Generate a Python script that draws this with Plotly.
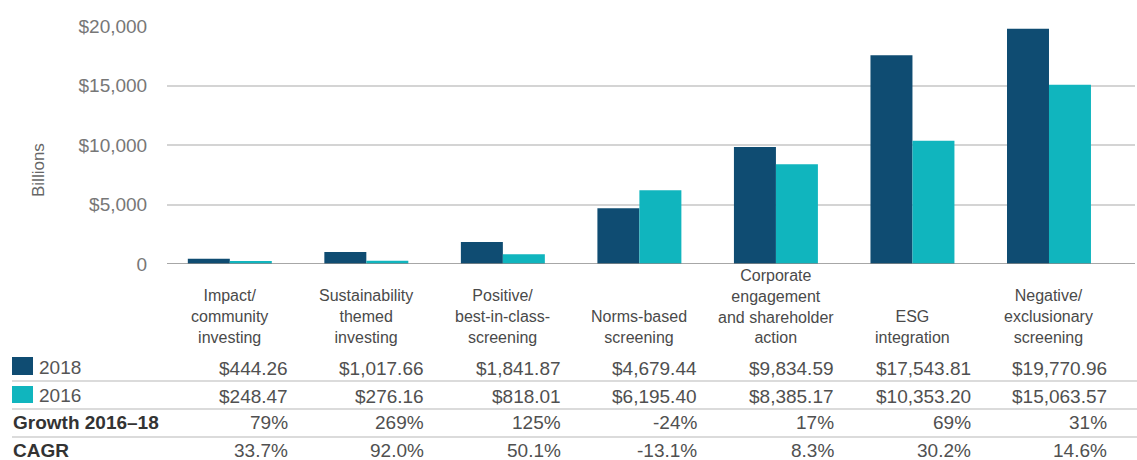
import plotly.graph_objects as go

# Sustainable investing assets by strategy, $ billions
categories = [
    "Impact/<br>community<br>investing",
    "Sustainability<br>themed<br>investing",
    "Positive/<br>best-in-class-<br>screening",
    "Norms-based<br>screening",
    "Corporate<br>engagement<br>and shareholder<br>action",
    "ESG<br>integration",
    "Negative/<br>exclusionary<br>screening",
]
values_2018 = [444.26, 1017.66, 1841.87, 4679.44, 9834.59, 17543.81, 19770.96]
values_2016 = [248.47, 276.16, 818.01, 6195.40, 8385.17, 10353.20, 15063.57]
growth_labels = ["79%", "269%", "125%", "-24%", "17%", "69%", "31%"]
cagr_labels = ["33.7%", "92.0%", "50.1%", "-13.1%", "8.3%", "30.2%", "14.6%"]
tick_values = [0, 5000, 10000, 15000, 20000]
tick_labels = ["0", "$5,000", "$10,000", "$15,000", "$20,000"]

NAVY = "#0f4c72"
TEAL = "#10b5be"
FONT = "Liberation Sans, Arial, sans-serif"

W, H = 1137, 460
PLOT_L, PLOT_R = 167, 1135
PLOT_T, PLOT_B = 26, 264


def py(pixel_y):
    """Pixel row -> paper y coordinate."""
    return (PLOT_B - pixel_y) / (PLOT_B - PLOT_T)


def px(pixel_x):
    """Pixel column -> paper x coordinate."""
    return (pixel_x - PLOT_L) / (PLOT_R - PLOT_L)


idx = list(range(len(categories)))

fig = go.Figure()
fig.add_trace(go.Bar(x=idx, y=values_2018, name="2018", marker_color=NAVY,
                     marker_line_width=0))
fig.add_trace(go.Bar(x=idx, y=values_2016, name="2016", marker_color=TEAL,
                     marker_line_width=0))

annotations = []

# category labels under the bars
for i, cat in enumerate(categories):
    annotations.append(dict(
        x=i, y=py(348), xref="x", yref="paper", text=cat, showarrow=False,
        xanchor="center", yanchor="bottom", align="center",
        font=dict(family=FONT, size=16, color="#4a4a4a")))

# data table rows
def money(v):
    return "${:,.2f}".format(v)

rows = [
    ([money(v) for v in values_2018], 368),
    ([money(v) for v in values_2016], 396),
    (growth_labels, 423),
    (cagr_labels, 451),
]
for texts, ypix in rows:
    for i, t in enumerate(texts):
        annotations.append(dict(
            x=i + 0.44, y=py(ypix), xref="x", yref="paper", text=t,
            showarrow=False, xanchor="right", yanchor="middle",
            font=dict(family=FONT, size=19, color="#505050")))

# row headers
annotations += [
    dict(x=px(37), y=py(367), xref="paper", yref="paper", text="2018",
         showarrow=False, xanchor="left", yanchor="middle",
         font=dict(family=FONT, size=19, color="#555555")),
    dict(x=px(37), y=py(395), xref="paper", yref="paper", text="2016",
         showarrow=False, xanchor="left", yanchor="middle",
         font=dict(family=FONT, size=19, color="#555555")),
    dict(x=px(11), y=py(423), xref="paper", yref="paper",
         text="<b>Growth 2016–18</b>", showarrow=False, xanchor="left",
         yanchor="middle", font=dict(family=FONT, size=19, color="#333333")),
    dict(x=px(11), y=py(451), xref="paper", yref="paper", text="<b>CAGR</b>",
         showarrow=False, xanchor="left", yanchor="middle",
         font=dict(family=FONT, size=19, color="#333333")),
    dict(x=px(38), y=py(170), xref="paper", yref="paper", text="Billions",
         showarrow=False, textangle=-90, xanchor="center", yanchor="middle",
         font=dict(family=FONT, size=17, color="#666666")),
]

shapes = []
# legend swatches
for (y0, y1), col in zip([(357, 375), (386, 403)], [NAVY, TEAL]):
    shapes.append(dict(type="rect", xref="paper", yref="paper",
                       x0=px(12), x1=px(33), y0=py(y1), y1=py(y0),
                       fillcolor=col, line_width=0))
# table row rules
for ypix in (381, 409, 437):
    shapes.append(dict(type="line", xref="paper", yref="paper",
                       x0=px(12), x1=px(1137), y0=py(ypix), y1=py(ypix),
                       line=dict(color="#cfcfcf", width=1.5)))
# baseline
shapes.append(dict(type="line", xref="paper", yref="y", x0=0, x1=1,
                   y0=0, y1=0, line=dict(color="#8a8a8a", width=1.5)))

fig.update_layout(
    width=W, height=H,
    margin=dict(l=PLOT_L, r=W - PLOT_R, t=PLOT_T, b=H - PLOT_B, autoexpand=False),
    paper_bgcolor="white", plot_bgcolor="white",
    barmode="group", bargap=0.385, bargroupgap=0,
    showlegend=False,
    annotations=annotations, shapes=shapes,
    xaxis=dict(range=[-0.46, 6.63], showticklabels=False, showgrid=False,
               zeroline=False, showline=False, ticks=""),
    yaxis=dict(range=[0, 20000], tickvals=tick_values, ticktext=tick_labels,
               showgrid=True, gridcolor="#d4d4d4", gridwidth=1.5,
               zeroline=False, showline=False, ticks="outside", ticklen=15,
               tickcolor="rgba(0,0,0,0)",
               tickfont=dict(family=FONT, size=19, color="#777777")),
)

fig.write_html("out.html")
